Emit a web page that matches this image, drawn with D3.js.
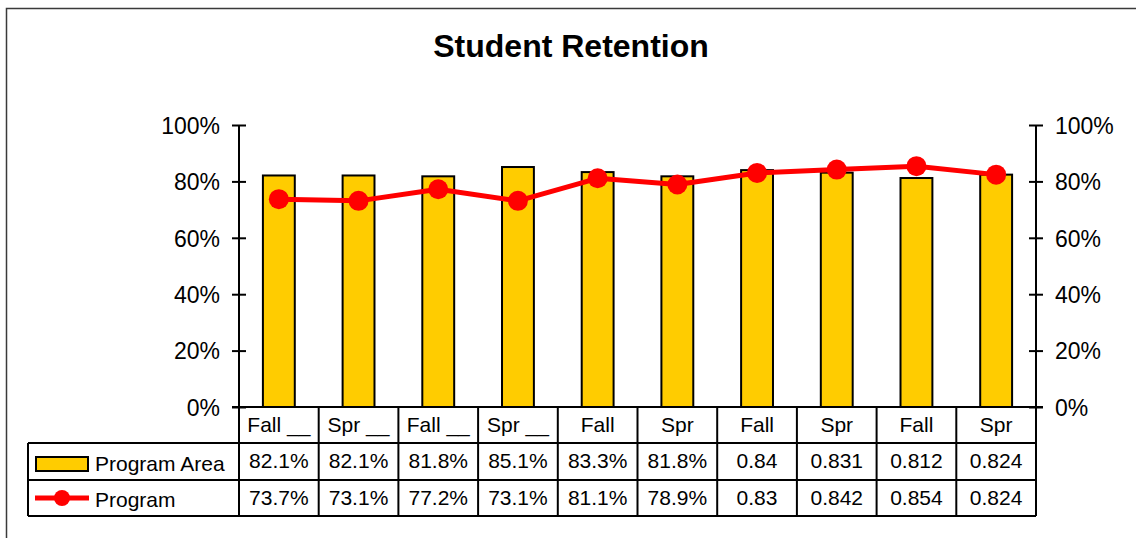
<!DOCTYPE html>
<html>
<head>
<meta charset="utf-8">
<script src="https://cdn.jsdelivr.net/npm/d3@7"></script>
<style>
  html, body { margin: 0; padding: 0; background: #fff; }
  svg { display: block; font-family: "Liberation Sans", Arial, sans-serif; }
</style>
</head>
<body>
<svg id="chart" width="1136" height="538"></svg>
<script>
const categories = ["Fall __", "Spr __", "Fall __", "Spr __", "Fall", "Spr", "Fall", "Spr", "Fall", "Spr"];
const programArea = [0.821, 0.821, 0.818, 0.851, 0.833, 0.818, 0.84, 0.831, 0.812, 0.824];
const program = [0.737, 0.731, 0.772, 0.731, 0.811, 0.789, 0.83, 0.842, 0.854, 0.824];
const programAreaText = ["82.1%", "82.1%", "81.8%", "85.1%", "83.3%", "81.8%", "0.84", "0.831", "0.812", "0.824"];
const programText = ["73.7%", "73.1%", "77.2%", "73.1%", "81.1%", "78.9%", "0.83", "0.842", "0.854", "0.824"];
const yTicks = [0, 0.2, 0.4, 0.6, 0.8, 1.0];
const seriesNames = ["Program Area", "Program"];

(function () {
const svg = d3.select("#chart");
const pLeft = 239, pRight = 1036, pTop = 125, pBottom = 407;
const rowBottom = 516, legendLeft = 28;

// outer chart border
svg.append("rect").attr("x", 6.5).attr("y", 8.5).attr("width", 1140).attr("height", 540)
  .attr("fill", "none").attr("stroke", "#3a3a3a").attr("stroke-width", 1.5);

// title
svg.append("text").attr("x", 571).attr("y", 57).attr("text-anchor", "middle")
  .attr("font-size", 32).attr("font-weight", "bold").text("Student Retention");

const x = d3.scaleBand().domain(d3.range(categories.length)).range([pLeft, pRight]).padding(0);
const y = d3.scaleLinear().domain([0, 1]).range([pBottom, pTop]);

// bars
const bw = x.bandwidth() * 0.4;
svg.append("g").selectAll("rect").data(programArea).join("rect")
  .attr("x", (d, i) => x(i) + (x.bandwidth() - bw) / 2)
  .attr("y", d => y(d))
  .attr("width", bw)
  .attr("height", d => y(0) - y(d))
  .attr("fill", "#FFCC00").attr("stroke", "#000").attr("stroke-width", 2);

// axes
const fmt = d3.format(".0%");
const gL = svg.append("g").attr("transform", `translate(${pLeft},0)`)
  .call(d3.axisLeft(y).tickValues(yTicks).tickFormat(fmt).tickSizeInner(7).tickSizeOuter(0).tickPadding(12));
const gR = svg.append("g").attr("transform", `translate(${pRight},0)`)
  .call(d3.axisRight(y).tickValues(yTicks).tickFormat(fmt).tickSizeInner(7).tickSizeOuter(0).tickPadding(12));
[gL, gR].forEach(g => {
  g.select(".domain").remove();
  g.selectAll(".tick line").attr("x1", -7).attr("x2", 7).attr("stroke", "#000").attr("stroke-width", 2);
  g.selectAll(".tick text").attr("font-size", 23).attr("fill", "#000")
    .attr("font-family", "Liberation Sans, Arial, sans-serif").attr("dy", "0.36em");
});
// vertical axis lines
svg.append("line").attr("x1", pLeft).attr("x2", pLeft).attr("y1", pTop).attr("y2", rowBottom)
  .attr("stroke", "#000").attr("stroke-width", 2);
svg.append("line").attr("x1", pRight).attr("x2", pRight).attr("y1", pTop).attr("y2", rowBottom)
  .attr("stroke", "#000").attr("stroke-width", 2);
// zero line
svg.append("line").attr("x1", pLeft - 7).attr("x2", pRight + 7).attr("y1", pBottom).attr("y2", pBottom)
  .attr("stroke", "#000").attr("stroke-width", 2);

// line series
const cx = i => x(i) + x.bandwidth() / 2;
svg.append("path").datum(program)
  .attr("d", d3.line().x((d, i) => cx(i)).y(d => y(d)))
  .attr("fill", "none").attr("stroke", "#FF0000").attr("stroke-width", 5).attr("stroke-linejoin", "round");
svg.append("g").selectAll("circle").data(program).join("circle")
  .attr("cx", (d, i) => cx(i)).attr("cy", d => y(d)).attr("r", 10).attr("fill", "#FF0000");

// data table
const tg = svg.append("g");
[443, 480, 516].forEach(yy => {
  tg.append("line").attr("x1", legendLeft).attr("x2", pRight).attr("y1", yy).attr("y2", yy)
    .attr("stroke", "#000").attr("stroke-width", 2);
});
tg.append("line").attr("x1", legendLeft).attr("x2", legendLeft).attr("y1", 443).attr("y2", rowBottom)
  .attr("stroke", "#000").attr("stroke-width", 2);
d3.range(1, categories.length).forEach(i => {
  tg.append("line").attr("x1", x(i)).attr("x2", x(i)).attr("y1", pBottom).attr("y2", rowBottom)
    .attr("stroke", "#000").attr("stroke-width", 2);
});
const rows = [categories, programAreaText, programText];
const baselines = [432, 468, 505];
rows.forEach((r, ri) => {
  tg.append("g").selectAll("text").data(r).join("text")
    .attr("x", (d, i) => cx(i)).attr("y", baselines[ri]).attr("text-anchor", "middle")
    .attr("font-size", 21).text(d => d);
});
// legend keys
tg.append("rect").attr("x", 36).attr("y", 457).attr("width", 52).attr("height", 14)
  .attr("fill", "#FFCC00").attr("stroke", "#000").attr("stroke-width", 2);
tg.append("line").attr("x1", 35).attr("x2", 89).attr("y1", 498).attr("y2", 498)
  .attr("stroke", "#FF0000").attr("stroke-width", 5);
tg.append("circle").attr("cx", 62).attr("cy", 498).attr("r", 8).attr("fill", "#FF0000");
tg.append("text").attr("x", 95).attr("y", 471).attr("font-size", 21).text(seriesNames[0]);
tg.append("text").attr("x", 95).attr("y", 507).attr("font-size", 21).text(seriesNames[1]);
})();
</script>
</body>
</html>
